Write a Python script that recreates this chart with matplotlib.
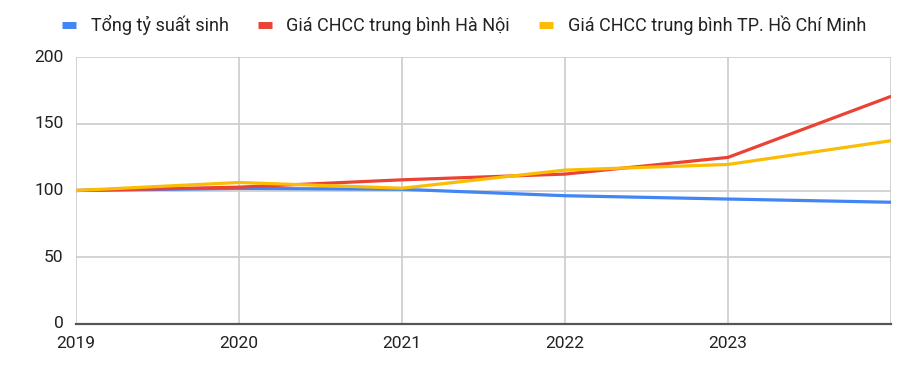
import matplotlib
matplotlib.use("Agg")
import matplotlib.pyplot as plt
from matplotlib.lines import Line2D

plt.rcParams['font.family'] = ['Roboto', 'DejaVu Sans']

years = [2019, 2020, 2021, 2022, 2023, 2024]
tick_years = [2019, 2020, 2021, 2022, 2023]
fertility = [100, 101.6, 100.9, 96.1, 93.6, 91.2]
hanoi = [100, 102.5, 108, 112.3, 124.8, 170.5]
hcmc = [100, 106, 101.7, 115.3, 119.5, 137.3]
labels = ["Tổng tỷ suất sinh", "Giá CHCC trung bình Hà Nội", "Giá CHCC trung bình TP. Hồ Chí Minh"]
colors = ["#4285F4", "#EA4335", "#FBBC04"]
yticks = [0, 50, 100, 150, 200]

fig = plt.figure(figsize=(9.2, 3.65), dpi=100)
ax = fig.add_axes([76/920, 41/365, 815/920, 267/365])

for vals, c in zip([fertility, hanoi, hcmc], colors):
    ax.plot(years, vals, color=c, lw=2.3, solid_joinstyle='round', zorder=3)

ax.set_xlim(2019, 2024)
ax.set_ylim(0, 200)
ax.set_yticks(yticks)
ax.set_xticks(tick_years + [2024])
ax.set_xticklabels([str(y) for y in tick_years] + [""])
ax.grid(True, color="#cccccc", lw=1.2)
ax.set_axisbelow(True)
for s in ["top", "right", "left"]:
    ax.spines[s].set_visible(False)
ax.spines["bottom"].set_color("#555555")
ax.spines["bottom"].set_linewidth(1.6)
ax.spines["bottom"].set_zorder(4)
ax.tick_params(axis='both', length=0, labelsize=12.5, colors="#222222")
ax.tick_params(axis='x', pad=9)
ax.tick_params(axis='y', pad=9)
for lab in ax.get_yticklabels():
    lab.set_va('center')

handles = [Line2D([0], [0], color=c, lw=5, solid_capstyle='butt') for c in colors]
fig.legend(handles, labels, loc='center', bbox_to_anchor=(464/920, 1 - 25/365), ncol=3,
           frameon=False, fontsize=13, handlelength=0.8, handletextpad=0.8, columnspacing=1.6,
           labelcolor="#222222")

fig.savefig("out.png", dpi=100)
